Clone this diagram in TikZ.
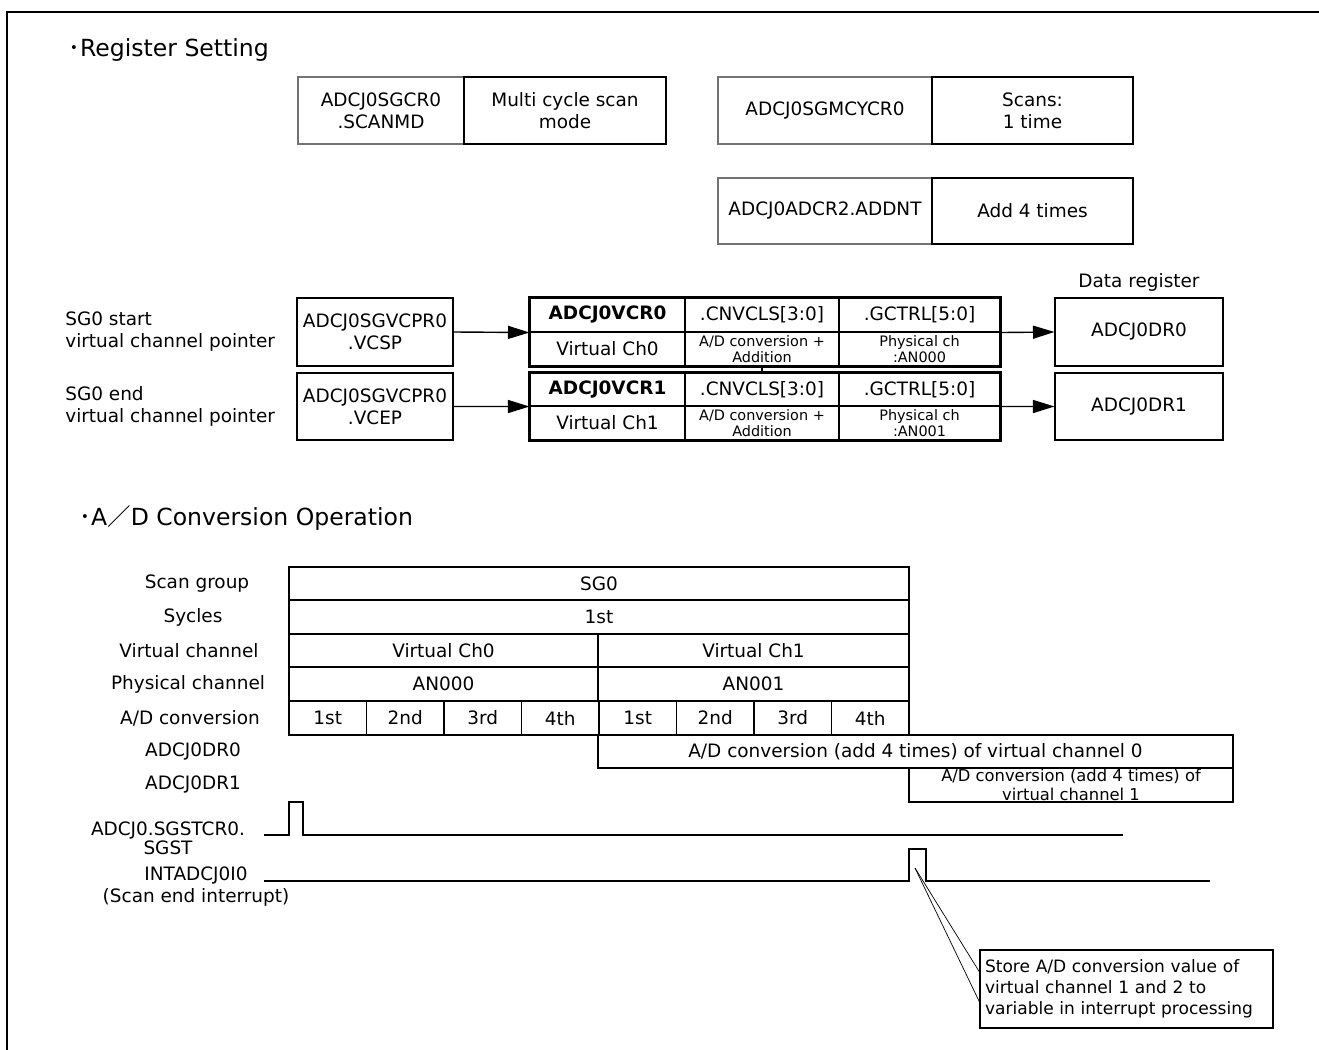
\documentclass[tikz,border=0pt]{standalone}
\usepackage{fontspec}
\setmainfont{DejaVu Sans}
\newfontfamily\cjkfont{Noto Sans CJK JP}
\usetikzlibrary{arrows.meta}

\begin{document}
\begin{tikzpicture}[x=0.02cm,y=-0.02cm,
  >={Triangle[length=0.43cm,width=0.26cm]},
  txt/.style={font=\fontsize{10.5}{12.6}\selectfont,inner sep=0pt,align=center},
  small/.style={font=\fontsize{8.2}{9}\selectfont},
  wh/.style 2 args={minimum width=#1*0.02cm,minimum height=#2*0.02cm},
  regbox/.style={txt,draw=black!55,line width=0.6pt},
  valbox/.style={txt,draw,line width=1pt},
  thinbox/.style={txt,draw,line width=0.6pt},
  cell/.style={txt,draw,line width=0.8pt},
  sig/.style={line width=0.8pt},
  title/.style={font=\fontsize{13.4}{16}\selectfont,inner sep=0pt,anchor=west}]
\useasboundingbox (0,0) rectangle (1319,1050);
\draw[line width=1.3pt] (1319,12) -- (7,12) -- (7,1050);

% register setting
\node[title] (regtitle) at (68,50) {{\cjkfont ･}Register Setting};
\node[regbox,wh={166}{67}] (scanmd) at (381,110.5) {ADCJ0SGCR0\\.SCANMD};
\node[valbox,wh={202}{67}] (scanmdval) at (565,110.5) {Multi cycle scan\\mode};
\node[regbox,wh={214}{67}] (mcycr) at (825,110.5) {ADCJ0SGMCYCR0};
\node[valbox,wh={201}{67}] (mcycrval) at (1032.5,110.5) {Scans:\\1 time};
\node[regbox,wh={214}{66}] (addnt) at (825,211) {ADCJ0ADCR2.ADDNT};
\node[valbox,wh={201}{66}] (addntval) at (1032.5,211) {Add 4 times};

\node[txt,align=left,anchor=west] (lstart) at (65,332) {SG0 start\\virtual channel pointer};
\node[txt,align=left,anchor=west] (lend) at (65,406) {SG0 end\\virtual channel pointer};
\node[thinbox,wh={156}{68}] (vcsp) at (375,332) {ADCJ0SGVCPR0\\.VCSP};
\node[thinbox,wh={156}{67}] (vcep) at (375,406.5) {ADCJ0SGVCPR0\\.VCEP};

\node[thinbox,wh={155}{34}] (vcr0name) at (607.5,315) {\textbf{ADCJ0VCR0}};
\node[thinbox,wh={154}{34}] (vcr0cls) at (762,315) {.CNVCLS[3:0]};
\node[thinbox,wh={161}{34}] (vcr0gc) at (919.5,315) {.GCTRL[5:0]};
\node[thinbox,wh={155}{34}] (vcr0vch) at (607.5,349) {Virtual Ch0};
\node[thinbox,small,wh={154}{34}] (vcr0add) at (762,349) {A/D conversion +\\Addition};
\node[thinbox,small,wh={161}{34}] (vcr0phy) at (919.5,349) {Physical ch\\:AN000};
\draw[line width=1.2pt] (vcr0name.north west) rectangle (vcr0phy.south east);

\node[thinbox,wh={155}{33}] (vcr1name) at (607.5,389.5) {\textbf{ADCJ0VCR1}};
\node[thinbox,wh={154}{33}] (vcr1cls) at (762,389.5) {.CNVCLS[3:0]};
\node[thinbox,wh={161}{33}] (vcr1gc) at (919.5,389.5) {.GCTRL[5:0]};
\node[thinbox,wh={155}{34}] (vcr1vch) at (607.5,423) {Virtual Ch1};
\node[thinbox,small,wh={154}{34}] (vcr1add) at (762,423) {A/D conversion +\\Addition};
\node[thinbox,small,wh={161}{34}] (vcr1phy) at (919.5,423) {Physical ch\\:AN001};
\draw[line width=1.2pt] (vcr1name.north west) rectangle (vcr1phy.south east);
\draw[line width=0.6pt] (vcr0add.south) -- (vcr1cls.north);

\node[txt] (drtitle) at (1139,282) {Data register};
\node[thinbox,wh={168}{68}] (dr0) at (1139,332) {ADCJ0DR0};
\node[thinbox,wh={168}{67}] (dr1) at (1139,406.5) {ADCJ0DR1};

\draw[->,line width=0.8pt] (vcsp.east) -- (vcr0name.south west);
\draw[->,line width=0.8pt] (vcep.east) -- (vcr1name.south west);
\draw[->,line width=0.8pt] (vcr0gc.south east) -- (dr0.west);
\draw[->,line width=0.8pt] (vcr1gc.south east) -- (dr1.west);

% conversion operation
\node[title] (optitle) at (79,518) {{\cjkfont ･}A{\cjkfont ／}D Conversion Operation};
\node[txt] (lscan) at (197,583.5) {Scan group};
\node[txt] (lcyc) at (193,617) {Sycles};
\node[txt] (lvch) at (189,650.5) {Virtual channel};
\node[txt] (lphy) at (188,684) {Physical channel};
\node[txt] (lconv) at (190,718) {A/D conversion};
\node[txt] (ldr0) at (193,751.5) {ADCJ0DR0};
\node[txt] (ldr1) at (193,785) {ADCJ0DR1};
\node[txt,font=\fontsize{10.5}{9.6}\selectfont] (lsgst) at (168,838.5) {ADCJ0.SGSTCR0.\\SGST};
\node[txt] (lint) at (196,886.5) {INTADCJ0I0\\(Scan end interrupt)};

\node[cell,wh={620}{33}] (sg) at (599,583.5) {SG0};
\node[cell,wh={620}{34}] (cyc) at (599,617) {1st};
\node[cell,wh={309}{33}] (vch0) at (443.5,650.5) {Virtual Ch0};
\node[cell,wh={311}{33}] (vch1) at (753.5,650.5) {Virtual Ch1};
\node[cell,wh={309}{34}] (an0) at (443.5,684) {AN000};
\node[cell,wh={311}{34}] (an1) at (753.5,684) {AN001};
\foreach \i/\t in {1/1st,2/2nd,3/3rd,4/4th,5/1st,6/2nd,7/3rd,8/4th}
  \node[cell,wh={77.5}{34}] (conv\i) at ({289+77.5*(\i-0.5)},718) {\t};
\node[cell,wh={635}{33}] (dr0bar) at (915.5,751.5) {A/D conversion (add 4 times) of virtual channel 0};
\node[cell,wh={324}{34}] (dr1bar) at (1071,785) {};
\node[txt,font=\fontsize{9.3}{10.8}\selectfont] (dr1txt) at (dr1bar.center) {A/D conversion (add 4 times) of\\virtual channel 1};

\draw[sig] (264,835) -- (289,835) -- (289,802) -- (303,802) -- (303,835) -- (1123,835);
\draw[sig] (264,881) -- (909,881) -- (909,849) -- (926,849) -- (926,881) -- (1210,881);

% callout
\coordinate (tip) at (915,868);
\node[draw,line width=0.6pt,wh={293}{78},text width=5.66cm,inner xsep=0.1cm,inner ysep=0pt,align=left,
  font=\fontsize{9.7}{11.9}\selectfont] (note) at (1126.5,989)
  {Store A/D conversion value of\\virtual channel 1 and 2 to\\variable in interrupt processing};
\draw[line width=0.4pt] (tip) -- ([yshift=0.34cm]note.west);
\draw[line width=0.4pt] (tip) -- ([yshift=-0.26cm]note.west);
\end{tikzpicture}
\end{document}
